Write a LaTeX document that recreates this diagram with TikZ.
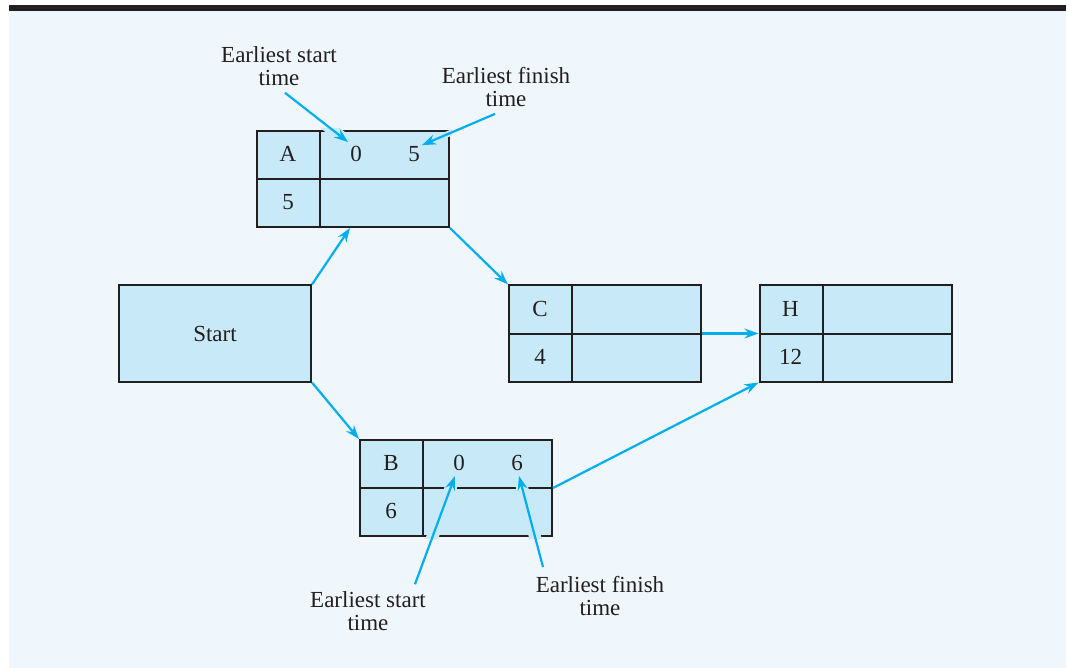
\documentclass[tikz,border=0pt]{standalone}
\usepackage{fontspec}
\setmainfont{Liberation Serif}
\usetikzlibrary{arrows.meta,positioning}
\definecolor{paper}{RGB}{239,247,253}
\definecolor{cell}{RGB}{199,233,248}
\definecolor{ink}{RGB}{35,31,32}
\definecolor{sky}{RGB}{0,174,239}
\tikzset{
  >={Stealth[length=14pt,width=10pt]},
  act/.style={draw=ink,fill=cell,line width=2pt,minimum width=192pt,
    minimum height=96pt,inner sep=0pt},
  txt/.style={font=\fontsize{23}{23}\selectfont,text=ink,inner sep=0pt},
  note/.style={txt,align=center},
  rule/.style={draw=ink,line width=2pt},
  flow/.style={->,line width=2.2pt,draw=sky,fill=sky},
  halo/.style={line width=12pt,draw=cell,shorten >=7pt},
}

\begin{document}
\begin{tikzpicture}[x=1pt,y=-1pt]
  \useasboundingbox (0,0) rectangle (1068,668);
  \fill[paper] (9,11) rectangle (1066,668);
  \fill[ink] (9,5) rectangle (1066,11);

  % activity boxes
  \node[act,txt] (Start) at (215,333.5) {Start};
  \foreach \n/\x/\y/\d in {A/353/179/5,B/456/488/6,C/605/333.5/4,H/855.5/333.5/12}{
    \node[act] (\n) at (\x,\y) {};
    \draw[rule] ([xshift=64pt]\n.north west) -- ([xshift=64pt]\n.south west)
      (\n.west) -- (\n.east);
    \node[txt] (\n-name) at ([shift={(32,24)}]\n.north west) {\n};
    \node[txt] (\n-dur) at ([shift={(32,72)}]\n.north west) {\d};
  }
  \foreach \n/\s/\f in {A/0/5,B/0/6}{
    \node[txt] (\n-es) at ([shift={(100,24)}]\n.north west) {\s};
    \node[txt] (\n-ef) at ([shift={(158,24)}]\n.north west) {\f};
  }

  % labels
  \node[note] (esA) at (279,66) {Earliest start\\time};
  \node[note] (efA) at (506,87) {Earliest finish\\time};
  \node[note] (esB) at (368,611) {Earliest start\\time};
  \node[note] (efB) at (600,596) {Earliest finish\\time};

  % gaps where the pointers cross the box rules
  \begin{scope}
    \clip ([shift={(-2,-2)}]A.north west) rectangle ([shift={(2,2)}]A.south east)
      ([shift={(-2,-2)}]B.north west) rectangle ([shift={(2,2)}]B.south east);
    \draw[halo] ([shift={(6,7)}]esA.south) -- ([shift={(-2,-4)}]A-es.north west);
    \draw[halo,line width=6pt] ([shift={(-11,7)}]efA.south) -- ([shift={(2,-1)}]A-ef.north east);
    \draw[halo] ([shift={(47,-7)}]esB.north) -- ([shift={(-4,5)}]B-es.south);
    \draw[halo] ([shift={(-57,-9)}]efB.north) -- ([shift={(2,5)}]B-ef.south);
  \end{scope}

  \draw[flow] ([shift={(6,7)}]esA.south) -- ([shift={(-2,-4)}]A-es.north west);
  \draw[flow] ([shift={(-11,7)}]efA.south) -- ([shift={(2,-1)}]A-ef.north east);
  \draw[flow] ([shift={(47,-7)}]esB.north) -- ([shift={(-4,5)}]B-es.south);
  \draw[flow] ([shift={(-57,-9)}]efB.north) -- ([shift={(2,5)}]B-ef.south);

  % precedence
  \draw[flow] (Start.north east) -- ([xshift=-3pt]A.south);
  \draw[flow] (A.south east) -- (C.north west);
  \draw[flow] (Start.south east) -- (B.north west);
  \draw[flow] (C.east) -- (H.west);
  \draw[flow] (B.east) -- (H.south west);
\end{tikzpicture}
\end{document}
